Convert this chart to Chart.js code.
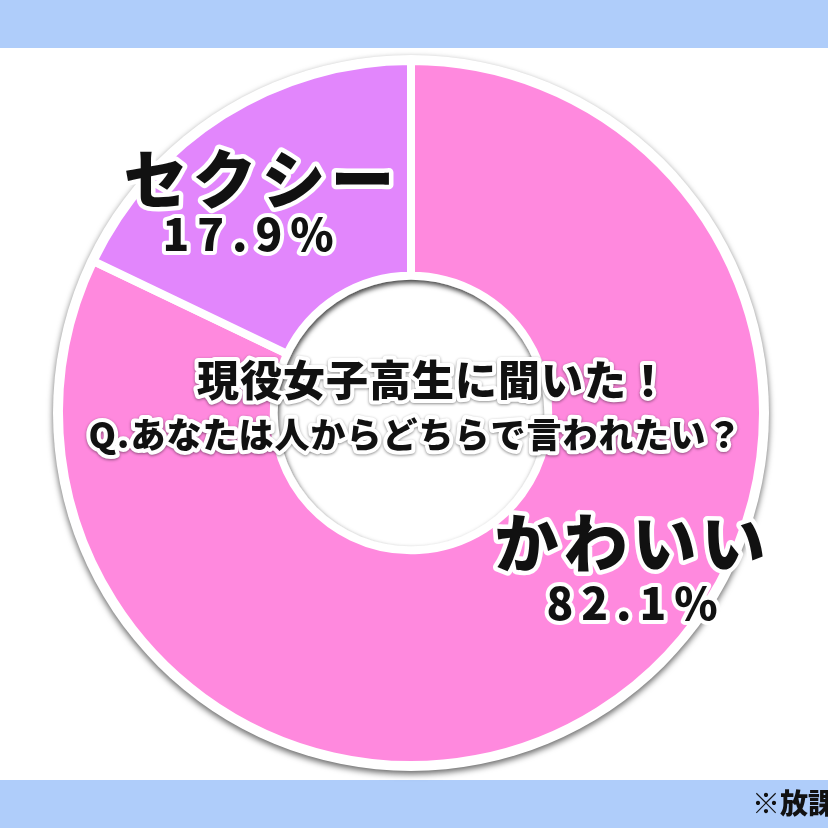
<!DOCTYPE html>
<html lang="ja">
<head>
<meta charset="utf-8">
<script src="https://cdn.jsdelivr.net/npm/chart.js@4.4.1/dist/chart.umd.min.js"></script>
<style>
  html, body { margin: 0; padding: 0; background: #fff; }
  canvas { display: block; }
</style>
</head>
<body>
<canvas id="chart" width="828" height="828"></canvas>
<script>
const categories = ['かわいい', 'セクシー'];
const percents = [82.1, 17.9];
const sliceColors = ['#ff89de', '#e286fc'];
const questionLines = ['現役女子高生に聞いた！', 'Q.あなたは人からどちらで言われたい？'];
const sourceNote = '※放課後';

const FONT = '"Noto Sans CJK JP", "Noto Sans", sans-serif';
const BAND = '#afcdfa';
const SEP = 8;

// where each slice label sits, as a fraction of the outer radius from the centre
const labelSpots = [
  { name: [0.622, 0.369], pct: [0.628, 0.540] },
  { name: [-0.432, -0.665], pct: [-0.463, -0.509] }
];

function outlinedText(ctx, text, x, y, size, spacing, outline, shadow) {
  ctx.save();
  ctx.font = `900 ${size}px ${FONT}`;
  ctx.letterSpacing = spacing + 'px';
  ctx.textAlign = 'center';
  ctx.textBaseline = 'middle';
  ctx.lineJoin = 'round';
  x += spacing / 2; // trailing letter gap
  if (shadow) {
    ctx.shadowColor = 'rgba(0,0,0,0.45)';
    ctx.shadowBlur = 3;
    ctx.shadowOffsetY = 1;
  }
  ctx.lineWidth = outline;
  ctx.strokeStyle = '#ffffff';
  ctx.strokeText(text, x, y);
  ctx.shadowColor = 'transparent';
  ctx.fillStyle = '#111111';
  ctx.fillText(text, x, y);
  ctx.restore();
}

const decor = {
  id: 'decor',
  beforeDraw(chart) {
    const { ctx, width, height } = chart;
    ctx.save();
    ctx.fillStyle = '#ffffff';
    ctx.fillRect(0, 0, width, height);
    ctx.fillStyle = BAND;
    ctx.fillRect(0, 0, width, 48);
    ctx.fillRect(0, 780, width, height - 780);
    ctx.font = `900 28px ${FONT}`;
    ctx.fillStyle = '#111111';
    ctx.textBaseline = 'middle';
    ctx.fillText(sourceNote, 752, 803);
    ctx.restore();
  },
  beforeDatasetsDraw(chart) {
    const arc = chart.getDatasetMeta(0).data[0];
    const { ctx } = chart;
    ctx.save();
    ctx.shadowColor = 'rgba(0,0,0,0.6)';
    ctx.shadowBlur = 6;
    ctx.shadowOffsetY = 3;
    ctx.fillStyle = '#ffffff';
    ctx.beginPath();
    ctx.arc(arc.x, arc.y, arc.outerRadius + 6, 0, Math.PI * 2);
    ctx.fill();
    ctx.restore();
  },
  afterDatasetsDraw(chart) {
    const arc = chart.getDatasetMeta(0).data[0];
    const { ctx } = chart;
    const cx = arc.x, cy = arc.y, R = arc.outerRadius;
    const hole = arc.innerRadius - SEP / 2;

    // inset shadow in the hole
    ctx.save();
    ctx.beginPath();
    ctx.arc(cx, cy, hole, 0, Math.PI * 2);
    ctx.clip();
    ctx.shadowColor = 'rgba(0,0,0,0.75)';
    ctx.shadowBlur = 5;
    ctx.shadowOffsetY = 3;
    ctx.shadowOffsetX = 1;
    ctx.lineWidth = 40;
    ctx.strokeStyle = '#ffffff';
    ctx.beginPath();
    ctx.arc(cx, cy, hole + 20, 0, Math.PI * 2);
    ctx.stroke();
    ctx.restore();

    categories.forEach((name, i) => {
      const spot = labelSpots[i];
      outlinedText(ctx, name, cx + spot.name[0] * R, cy + spot.name[1] * R, 64, 5, 9, false);
      outlinedText(ctx, percents[i] + '%', cx + spot.pct[0] * R, cy + spot.pct[1] * R, 44, 8, 8, false);
    });

    outlinedText(ctx, questionLines[0], cx + 22, cy - 33, 42, 1, 8, true);
    outlinedText(ctx, questionLines[1], cx + 4, cy + 22, 35, 1, 8, true);
  }
};

new Chart(document.getElementById('chart'), {
  type: 'doughnut',
  data: {
    labels: categories,
    datasets: [{
      data: percents,
      backgroundColor: sliceColors,
      borderColor: '#ffffff',
      borderWidth: SEP,
      hoverOffset: 0
    }]
  },
  options: {
    responsive: false,
    animation: false,
    cutout: '39%',
    layout: {
      padding: { left: 55, right: 61, top: 57, bottom: 59 }
    },
    plugins: {
      legend: { display: false },
      tooltip: { enabled: false }
    }
  },
  plugins: [decor]
});
</script>
</body>
</html>
